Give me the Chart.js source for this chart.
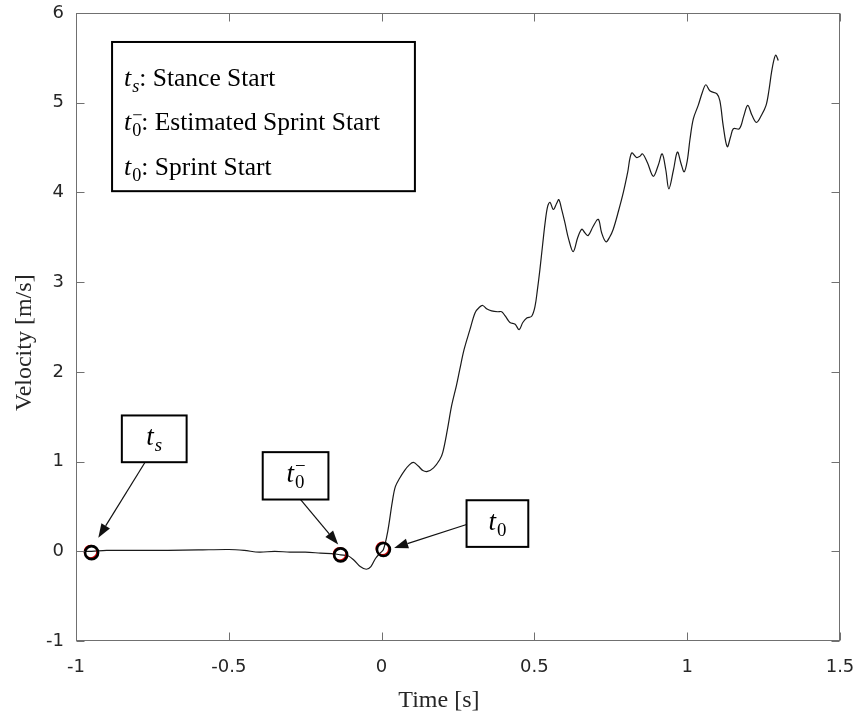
<!DOCTYPE html>
<html>
<head>
<meta charset="utf-8">
<script src="https://cdn.jsdelivr.net/npm/chart.js@4.4.1/dist/chart.umd.min.js"></script>
<style>
  html, body { margin: 0; padding: 0; background: #fff; }
  #wrap { width: 858px; height: 719px; }
</style>
</head>
<body>
<div id="wrap"><canvas id="chart" width="858" height="719"></canvas></div>
<script>
// velocity trace of the start, time relative to sprint start
const time = [
  -0.97, -0.949, -0.90, -0.80, -0.70, -0.60, -0.50, -0.45, -0.40, -0.35,
  -0.30, -0.25, -0.20, -0.15, -0.134, -0.11, -0.09, -0.07, -0.05, -0.035,
  -0.02, -0.005, 0.006, 0.02, 0.035, 0.045, 0.06, 0.075, 0.09, 0.104,
  0.12, 0.135, 0.15, 0.17, 0.19, 0.20, 0.215, 0.229, 0.245, 0.256,
  0.27, 0.289, 0.306, 0.32, 0.331, 0.345, 0.36, 0.38, 0.393, 0.405,
  0.42, 0.437, 0.45, 0.462, 0.475, 0.491, 0.502, 0.51, 0.518, 0.527,
  0.535, 0.543, 0.551, 0.562, 0.573, 0.58, 0.59, 0.60, 0.612, 0.627,
  0.642, 0.655, 0.665, 0.676, 0.692, 0.709, 0.72, 0.734, 0.746, 0.758,
  0.775, 0.791, 0.805, 0.818, 0.834, 0.844, 0.854, 0.87, 0.889, 0.905,
  0.918, 0.93, 0.94, 0.955, 0.968, 0.98, 0.99, 1.00, 1.009, 1.02,
  1.036, 1.05, 1.061, 1.075, 1.097, 1.107, 1.118, 1.131, 1.142, 1.151,
  1.171, 1.185, 1.198, 1.212, 1.227, 1.243, 1.258, 1.268, 1.276, 1.284,
  1.29, 1.298
];
const velocity = [
  0.00, 0.00, 0.01, 0.01, 0.01, 0.015, 0.02, 0.01, -0.01, 0.00,
  -0.01, -0.01, -0.02, -0.03, -0.04, -0.05, -0.10, -0.17, -0.20, -0.17,
  -0.08, -0.02, 0.02, 0.22, 0.55, 0.72, 0.82, 0.90, 0.96, 0.99,
  0.95, 0.90, 0.89, 0.93, 1.02, 1.10, 1.35, 1.62, 1.85, 2.03,
  2.25, 2.47, 2.66, 2.72, 2.74, 2.70, 2.68, 2.67, 2.67, 2.62,
  2.55, 2.53, 2.47, 2.55, 2.60, 2.62, 2.73, 2.92, 3.14, 3.42,
  3.66, 3.84, 3.89, 3.81, 3.88, 3.92, 3.80, 3.66, 3.48, 3.34,
  3.50, 3.59, 3.55, 3.52, 3.62, 3.70, 3.55, 3.45, 3.50, 3.59,
  3.79, 4.00, 4.22, 4.44, 4.39, 4.40, 4.43, 4.33, 4.18, 4.30,
  4.43, 4.25, 4.04, 4.25, 4.45, 4.32, 4.23, 4.35, 4.59, 4.82,
  4.97, 5.12, 5.20, 5.13, 5.10, 5.02, 4.74, 4.51, 4.62, 4.71,
  4.71, 4.85, 4.97, 4.86, 4.78, 4.86, 4.97, 5.15, 5.34, 5.48,
  5.53, 5.47
];

// events: stance start, estimated sprint start, sprint start
const eventTimes = [-0.949, -0.134, 0.006];
const eventVelocity = [-0.015, -0.04, 0.02];
const detectTimes = [-0.952, -0.137, 0.003];
const detectVelocity = [-0.005, -0.03, 0.03];

const xTicks = [-1, -0.5, 0, 0.5, 1, 1.5];
const yTicks = [-1, 0, 1, 2, 3, 4, 5, 6];

const legendLines = [
  { sub: 's', text: ': Stance Start' },
  { sub: '0', sup: '\u2212', text: ': Estimated Sprint Start' },
  { sub: '0', text: ': Sprint Start' }
];

// callout boxes and arrows, in axis units
const callouts = [
  { sub: 's', box: [-0.850, 1.514, -0.638, 0.993], tail: [-0.774, 0.993], tip: [-0.927, 0.15] },
  { sub: '0', sup: '\u2212', box: [-0.389, 1.105, -0.174, 0.577], tail: [-0.265, 0.577], tip: [-0.142, 0.075] },
  { sub: '0', box: [0.278, 0.569, 0.48, 0.049], tail: [0.278, 0.298], tip: [0.041, 0.038] }
];
const legendBox = [-0.882, 5.677, 0.109, 4.014];
const legendTextX = -0.843;
const legendBaselines = [5.186, 4.695, 4.193];

const serif = '"Liberation Serif", "Times New Roman", serif';
const sans = '"DejaVu Sans", Arial, sans-serif';

const toPoints = (xs, ys) => xs.map((x, i) => ({ x: x, y: ys[i] }));

// italic t with a subscript and optional superscript stacked above it
const drawT = (ctx, x, y, size, sub, sup, center) => {
  const small = size * 0.7;
  ctx.font = `italic ${size}px ${serif}`;
  const tw = ctx.measureText('t').width;
  const subFont = `${sub === 's' ? 'italic ' : ''}${small}px ${serif}`;
  ctx.font = subFont;
  const sw = ctx.measureText(sub).width;
  const total = tw + 1 + sw;
  const x0 = center ? x - total / 2 : x;
  ctx.textAlign = 'left';
  ctx.textBaseline = 'alphabetic';
  ctx.font = `italic ${size}px ${serif}`;
  ctx.fillText('t', x0, y);
  ctx.font = subFont;
  ctx.fillText(sub, x0 + tw + 1, y + size * 0.24);
  if (sup) {
    ctx.font = `${small}px ${serif}`;
    ctx.fillText(sup, x0 + tw + 1, y - size * 0.36);
  }
  return x0 + total;
};

const arrow = (ctx, x1, y1, x2, y2) => {
  const ang = Math.atan2(y2 - y1, x2 - x1);
  const len = 14, half = 5;
  const bx = x2 - len * Math.cos(ang), by = y2 - len * Math.sin(ang);
  ctx.beginPath();
  ctx.moveTo(x1, y1);
  ctx.lineTo(bx, by);
  ctx.stroke();
  ctx.beginPath();
  ctx.moveTo(x2, y2);
  ctx.lineTo(bx + half * Math.sin(ang), by - half * Math.cos(ang));
  ctx.lineTo(bx - half * Math.sin(ang), by + half * Math.cos(ang));
  ctx.closePath();
  ctx.fill();
};

const framePlugin = {
  id: 'frame',
  afterDraw(chart) {
    const { ctx, chartArea: a, scales: { x, y } } = chart;
    const px = v => x.getPixelForValue(v);
    const py = v => y.getPixelForValue(v);
    ctx.save();

    // axes box with inward ticks on all sides
    ctx.strokeStyle = '#707070';
    ctx.lineWidth = 1;
    const l = Math.round(a.left) + 0.5, r = Math.round(a.right) - 0.5;
    const t = Math.round(a.top) + 0.5, b = Math.round(a.bottom) - 0.5;
    ctx.strokeRect(l, t, r - l, b - t);
    ctx.beginPath();
    xTicks.forEach(v => {
      const xx = Math.round(px(v)) + 0.5;
      ctx.moveTo(xx, b); ctx.lineTo(xx, b - 8);
      ctx.moveTo(xx, t); ctx.lineTo(xx, t + 8);
    });
    yTicks.forEach(v => {
      const yy = Math.round(py(v)) + 0.5;
      ctx.moveTo(l, yy); ctx.lineTo(l + 8, yy);
      ctx.moveTo(r, yy); ctx.lineTo(r - 8, yy);
    });
    ctx.stroke();

    // axis titles
    ctx.fillStyle = '#262626';
    ctx.font = `24px ${serif}`;
    ctx.textAlign = 'center';
    ctx.textBaseline = 'middle';
    ctx.fillText('Time [s]', a.left + (a.right - a.left) * 0.475, 701);
    ctx.save();
    ctx.translate(25, a.top + (a.bottom - a.top) * 0.525);
    ctx.rotate(-Math.PI / 2);
    ctx.fillText('Velocity [m/s]', 0, 0);
    ctx.restore();

    // legend box
    ctx.strokeStyle = '#000';
    ctx.lineWidth = 2;
    const lx1 = px(legendBox[0]), ly1 = py(legendBox[1]);
    const lx2 = px(legendBox[2]), ly2 = py(legendBox[3]);
    ctx.fillStyle = '#fff';
    ctx.fillRect(lx1, ly1, lx2 - lx1, ly2 - ly1);
    ctx.strokeRect(lx1, ly1, lx2 - lx1, ly2 - ly1);
    ctx.fillStyle = '#000';
    legendLines.forEach((line, i) => {
      const yb = py(legendBaselines[i]);
      const end = drawT(ctx, px(legendTextX), yb, 26, line.sub, line.sup, false);
      ctx.font = `25.5px ${serif}`;
      ctx.textAlign = 'left';
      ctx.fillText(line.text, end, yb);
    });

    // callouts
    callouts.forEach(c => {
      const x1 = px(c.box[0]), y1 = py(c.box[1]);
      const x2 = px(c.box[2]), y2 = py(c.box[3]);
      ctx.lineWidth = 1.2;
      ctx.strokeStyle = '#111';
      ctx.fillStyle = '#111';
      arrow(ctx, px(c.tail[0]), py(c.tail[1]), px(c.tip[0]), py(c.tip[1]));
      ctx.fillStyle = '#fff';
      ctx.fillRect(x1, y1, x2 - x1, y2 - y1);
      ctx.lineWidth = 2;
      ctx.strokeStyle = '#000';
      ctx.strokeRect(x1, y1, x2 - x1, y2 - y1);
      ctx.fillStyle = '#000';
      drawT(ctx, (x1 + x2) / 2, (y1 + y2) / 2 + 6, 27, c.sub, c.sup, true);
    });

    ctx.restore();
  }
};

new Chart(document.getElementById('chart'), {
  type: 'scatter',
  data: {
    datasets: [
      {
        label: 'events',
        data: toPoints(eventTimes, eventVelocity),
        pointRadius: 6.5,
        pointBorderWidth: 2.6,
        pointBorderColor: '#000',
        pointBackgroundColor: 'rgba(0,0,0,0)',
        order: 1
      },
      {
        label: 'detected',
        data: toPoints(detectTimes, detectVelocity),
        pointRadius: 6.3,
        pointBorderWidth: 1.6,
        pointBorderColor: '#e00000',
        pointBackgroundColor: 'rgba(0,0,0,0)',
        order: 2
      },
      {
        label: 'velocity',
        data: toPoints(time, velocity),
        showLine: true,
        borderColor: '#1a1a1a',
        borderWidth: 1.2,
        pointRadius: 0,
        tension: 0.35,
        order: 3
      }
    ]
  },
  options: {
    responsive: false,
    animation: false,
    layout: { padding: { top: 13, right: 18, left: 0, bottom: 0 } },
    plugins: { legend: { display: false }, tooltip: { enabled: false } },
    scales: {
      x: {
        type: 'linear',
        min: -1,
        max: 1.5,
        grid: { display: false, drawTicks: false },
        border: { display: false },
        ticks: {
          color: '#262626',
          font: { family: sans, size: 18 },
          padding: 16,
          callback: v => String(v)
        },
        afterBuildTicks: s => { s.ticks = xTicks.map(v => ({ value: v })); },
        afterFit: s => { s.height = 78; s.paddingLeft = 0; s.paddingRight = 0; }
      },
      y: {
        type: 'linear',
        min: -1,
        max: 6,
        grid: { display: false, drawTicks: false },
        border: { display: false },
        ticks: {
          color: '#262626',
          font: { family: sans, size: 18 },
          padding: 12,
          callback: v => String(v)
        },
        afterBuildTicks: s => { s.ticks = yTicks.map(v => ({ value: v })); },
        afterFit: s => { s.width = 76; s.paddingTop = 0; s.paddingBottom = 0; }
      }
    }
  },
  plugins: [framePlugin]
});
</script>
</body>
</html>
